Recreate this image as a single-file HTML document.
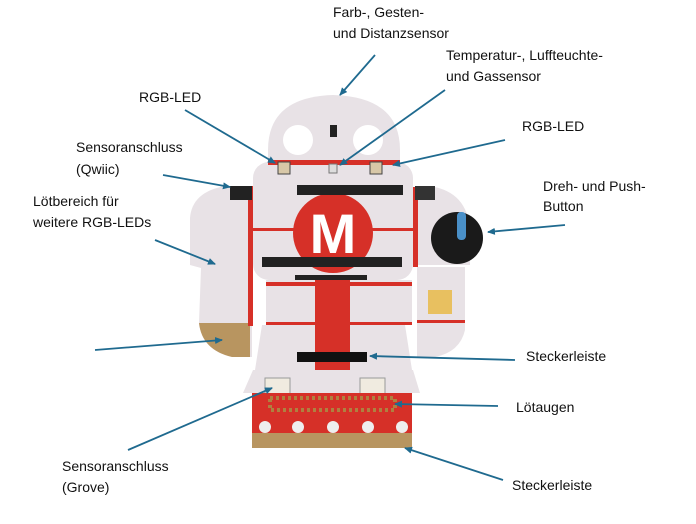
<!DOCTYPE html>
<html><head><meta charset="utf-8"><style>
html,body{margin:0;padding:0;background:#fff;}
svg{display:block}
text{font-family:"Liberation Sans Narrow","Liberation Sans",sans-serif;font-size:14px;fill:#111}
</style></head><body>
<svg width="696" height="524" viewBox="0 0 696 524" xmlns="http://www.w3.org/2000/svg">
<defs>
<marker id="a" markerWidth="8" markerHeight="8" refX="7" refY="4" orient="auto" markerUnits="userSpaceOnUse">
<path d="M0,0.5 L8,4 L0,7.5 Z" fill="#1f6a8f"/></marker>
</defs>
<!-- left arm -->
<path d="M225,186 L252,186 L252,357 L232,357 Q202,350 199,323 L201,268 L190,265 L190,218 Q192,192 225,186Z" fill="#e8e2e6"/>
<path d="M199,323 L250,323 L250,357 L232,357 Q202,350 199,323Z" fill="#b89560"/>
<rect x="248" y="186" width="5" height="140" fill="#d63028"/>
<!-- right arm -->
<path d="M413,187 L435,187 Q470,195 470,235 L470,265 L413,265Z" fill="#e8e2e6"/>
<path d="M417,267 L465,267 L465,330 Q460,352 435,357 L417,357Z" fill="#e8e2e6"/>
<rect x="413" y="187" width="5" height="80" fill="#d63028"/>
<rect x="417" y="320" width="48" height="3" fill="#d63028"/>
<!-- head dome -->
<path d="M268,165 L268,150 Q268,97 333,95 Q400,97 400,150 L400,165Z" fill="#e8e2e6"/>
<circle cx="298" cy="140" r="15" fill="#fff"/>
<circle cx="368" cy="140" r="15" fill="#fff"/>
<rect x="330" y="125" width="7" height="12" fill="#222"/>
<!-- face/torso -->
<rect x="253" y="162" width="160" height="118" rx="16" fill="#e8e2e6"/>
<rect x="268" y="160" width="132" height="5" fill="#d63028"/>
<rect x="253" y="228" width="160" height="3" fill="#d63028"/>
<circle cx="333" cy="233" r="40" fill="#d63028"/>
<text x="333" y="253" text-anchor="middle" style="font-family:'Liberation Sans',sans-serif;font-size:56px;font-weight:bold;fill:#fff">M</text>
<rect x="297" y="185" width="106" height="10" fill="#222"/>
<rect x="262" y="257" width="140" height="10" fill="#222"/>
<rect x="295" y="275" width="72" height="9" fill="#222"/>
<rect x="278" y="162" width="12" height="12" fill="#d8c8a8" stroke="#444"/>
<rect x="370" y="162" width="12" height="12" fill="#d8c8a8" stroke="#444"/>
<rect x="329" y="164" width="8" height="9" fill="#ddd" stroke="#777"/>
<rect x="230" y="186" width="22" height="14" fill="#222"/>
<rect x="415" y="186" width="20" height="14" fill="#333"/>
<!-- lower torso -->
<rect x="266" y="280" width="146" height="45" fill="#e8e2e6"/>
<rect x="266" y="282" width="146" height="4" fill="#d63028"/>
<rect x="315" y="280" width="35" height="50" fill="#d63028"/>
<rect x="266" y="322" width="146" height="3" fill="#d63028"/>
<!-- hips -->
<path d="M262,325 L405,325 L412,370 L255,370Z" fill="#e8e2e6"/>
<rect x="315" y="325" width="35" height="45" fill="#d63028"/>
<rect x="297" y="352" width="70" height="10" fill="#111"/>
<path d="M253,370 L413,370 L420,393 L243,393Z" fill="#e8e2e6"/>
<rect x="265" y="378" width="25" height="16" fill="#f0ebe0" stroke="#999"/>
<rect x="360" y="378" width="25" height="16" fill="#f0ebe0" stroke="#999"/>
<!-- bottom red -->
<path d="M252,393 L412,393 L412,440 Q412,448 404,448 L260,448 Q252,448 252,440Z" fill="#d63028"/>
<rect x="252" y="433" width="160" height="15" fill="#b89560"/>
<rect x="270" y="398" width="125" height="12" fill="none" stroke="#b08040" stroke-dasharray="3,3" stroke-width="4"/>
<circle cx="265" cy="427" r="6" fill="#eee"/><circle cx="298" cy="427" r="6" fill="#eee"/><circle cx="333" cy="427" r="6" fill="#eee"/><circle cx="368" cy="427" r="6" fill="#eee"/><circle cx="402" cy="427" r="6" fill="#eee"/>
<!-- knob -->
<circle cx="457" cy="238" r="26" fill="#1a1a1a"/>
<rect x="457" y="212" width="9" height="28" rx="4" fill="#4a90c8"/>
<rect x="428" y="290" width="24" height="24" fill="#e8c060"/>
<!-- arrows -->
<g stroke="#1f6a8f" stroke-width="1.8" fill="none" marker-end="url(#a)">
<line x1="375" y1="55" x2="340" y2="95"/>
<line x1="445" y1="90" x2="340" y2="165"/>
<line x1="185" y1="110" x2="275" y2="163"/>
<line x1="505" y1="140" x2="393" y2="165"/>
<line x1="163" y1="175" x2="230" y2="187"/>
<line x1="155" y1="240" x2="215" y2="264"/>
<line x1="565" y1="225" x2="488" y2="232"/>
<line x1="95" y1="350" x2="222" y2="340"/>
<line x1="515" y1="360" x2="370" y2="356"/>
<line x1="498" y1="406" x2="395" y2="404"/>
<line x1="128" y1="450" x2="272" y2="388"/>
<line x1="503" y1="480" x2="405" y2="448"/>
</g>
<!-- labels -->
<text x="333" y="17">Farb-, Gesten-</text>
<text x="333" y="38">und Distanzsensor</text>
<text x="446" y="60">Temperatur-, Luffteuchte-</text>
<text x="446" y="81">und Gassensor</text>
<text x="139" y="102">RGB-LED</text>
<text x="522" y="131">RGB-LED</text>
<text x="76" y="152">Sensoranschluss</text>
<text x="76" y="174">(Qwiic)</text>
<text x="33" y="206">Lötbereich für</text>
<text x="33" y="227">weitere RGB-LEDs</text>
<text x="543" y="191">Dreh- und Push-</text>
<text x="543" y="211">Button</text>
<text x="526" y="361">Steckerleiste</text>
<text x="516" y="412">Lötaugen</text>
<text x="62" y="471">Sensoranschluss</text>
<text x="62" y="492">(Grove)</text>
<text x="512" y="490">Steckerleiste</text>
</svg>
</body></html>
